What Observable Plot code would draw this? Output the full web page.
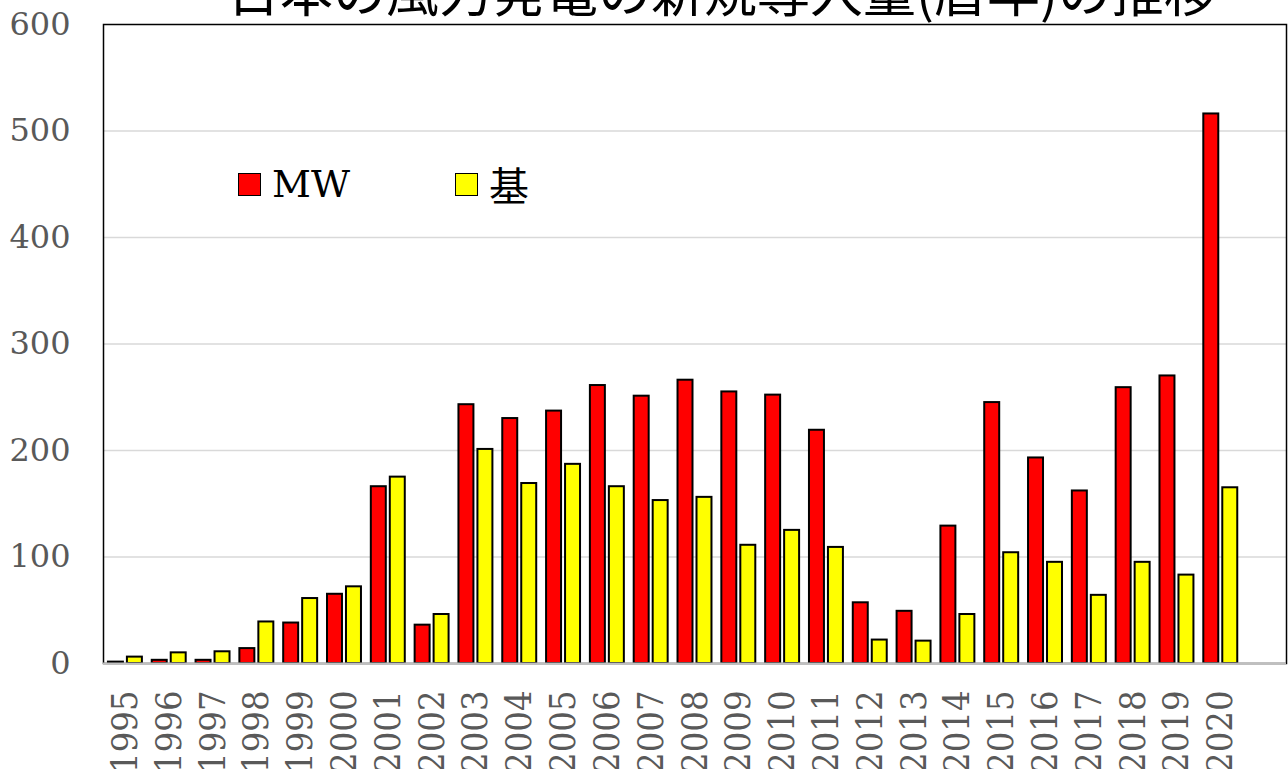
<!DOCTYPE html>
<html>
<head>
<meta charset="utf-8">
<script src="https://cdn.jsdelivr.net/npm/d3@7"></script>
<script src="https://cdn.jsdelivr.net/npm/@observablehq/plot@0.6"></script>
<style>
  html, body { margin: 0; padding: 0; background: #fff; overflow: hidden; }
  #wrap { position: relative; width: 1288px; height: 769px; }
  #title { position: absolute; top: -37px; left: 227px; white-space: nowrap;
           font-family: "Noto Sans CJK JP"; font-size: 53px; line-height: 1; color: #000; z-index: 2; }
  .legend { position: absolute; display: flex; align-items: center; z-index: 2; }
  .sw { width: 21px; height: 21px; border: 1.5px solid #000; margin-right: 11px; }
  .lt { color: #000; line-height: 1; }
  g[aria-label="x-axis tick label"] text { font-family: "DejaVu Serif Condensed", "DejaVu Serif"; font-stretch: condensed; }
</style>
</head>
<body>
<div id="wrap">
  <div id="title">日本の風力発電の新規導入量(暦年)の推移</div>
  <div id="chart"></div>
</div>
<script>
const years = ["1995","1996","1997","1998","1999","2000","2001","2002","2003","2004","2005","2006","2007",
               "2008","2009","2010","2011","2012","2013","2014","2015","2016","2017","2018","2019","2020"];
const mw    = [1.3, 3, 3, 14, 38, 65, 166, 36, 243, 230, 237, 261, 251,
               266, 255, 252, 219, 57, 49, 129, 245, 193, 162, 259, 270, 516];
const units = [6, 10, 11, 39, 61, 72, 175, 46, 201, 169, 187, 166, 153,
               156, 111, 125, 109, 22, 21, 46, 104, 95, 64, 95, 83, 165];
const seriesNames = ["MW", "基"];
const seriesColors = ["#ff0000", "#ffff00"];
const yTicks = [0, 100, 200, 300, 400, 500, 600];

const data = years.flatMap((y, i) => [
  {year: y, series: seriesNames[0], value: mw[i]},
  {year: y, series: seriesNames[1], value: units[i]}
]);

const W = 1288, H = 769, ML = 103, MR = 2, MT = 24, MB = 106;
const xDomain = [...years, ""];
const padIn = 0.225, padOut = 0.1125;
const step = (W - ML - MR) / (xDomain.length - padIn + 2 * padOut);
const bw = step * (1 - padIn);
const inset = bw / 2 + 2;

const chart = Plot.plot({
  width: W, height: H,
  marginLeft: ML, marginRight: MR, marginTop: MT, marginBottom: MB,
  style: {fontFamily: "DejaVu Serif", background: "#fff"},
  x: {domain: xDomain, paddingInner: padIn, paddingOuter: padOut, round: false, axis: null, label: null},
  y: {domain: [0, 600], axis: null, label: null},
  color: {domain: seriesNames, range: seriesColors},
  marks: [
    Plot.gridY(yTicks.filter(d => d > 0 && d < 600), {stroke: "#d9d9d9", strokeOpacity: 1, strokeWidth: 1.5}),
    Plot.frame({stroke: "#000", strokeWidth: 1.5}),
    Plot.barY(data.filter(d => d.series === seriesNames[0]), {
      x: "year", y: "value", fill: "series", stroke: "#000", strokeWidth: 2, insetRight: inset
    }),
    Plot.barY(data.filter(d => d.series === seriesNames[1]), {
      x: "year", y: "value", fill: "series", stroke: "#000", strokeWidth: 2, insetLeft: inset
    }),
    Plot.ruleY([0], {stroke: "#bfbfbf", strokeWidth: 2}),
    Plot.axisY({ticks: yTicks, label: null, tickSize: 0, tickPadding: 33, fontSize: 32, fill: "#595959"}),
    Plot.axisX({ticks: years, label: null, tickSize: 0, tickPadding: 27, tickRotate: -90, fontSize: 36, fill: "#595959"})
  ]
});
document.getElementById("chart").appendChild(chart);

// legend (HTML overlay inside the plot area)
const wrap = document.getElementById("wrap");
const legendPos = [{left: 238, fs: 38, fam: "DejaVu Serif"}, {left: 455, fs: 40, fam: "Noto Sans CJK JP"}];
seriesNames.forEach((name, i) => {
  const item = document.createElement("div");
  item.className = "legend";
  item.style.left = legendPos[i].left + "px";
  item.style.top = "171px";
  item.style.height = "26px";
  const sw = document.createElement("div");
  sw.className = "sw";
  sw.style.background = seriesColors[i];
  const lt = document.createElement("div");
  lt.className = "lt";
  lt.textContent = name;
  lt.style.fontFamily = legendPos[i].fam;
  lt.style.fontSize = legendPos[i].fs + "px";
  item.appendChild(sw);
  item.appendChild(lt);
  wrap.appendChild(item);
});
</script>
</body>
</html>
